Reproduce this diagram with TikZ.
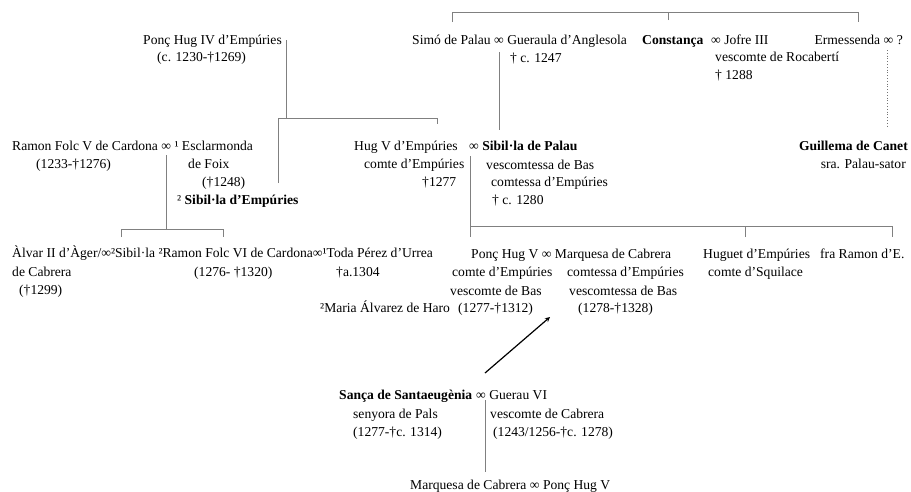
\documentclass[tikz,border=0pt]{standalone}
\usepackage{fontspec}
\setmainfont{Liberation Serif}
\begin{document}
\begin{tikzpicture}[x=1pt,y=-1pt,
	pers/.style={anchor=west,inner sep=0pt,text height=9pt,text depth=3pt},
	tree/.style={draw=black!50,line width=0.8pt},
	kin/.style={draw=black!55,line width=0.8pt,dotted},
	pointer/.style={draw=black,line width=1.2pt,-stealth}]
	\useasboundingbox (0,0) rectangle (911,491);
	\begin{scope}[every node/.style={pers},font=\fontsize{13.6}{16}\selectfont]
	% first generation
	\node (ponc4) at (143,41) {Ponç Hug IV d’Empúries};
	\node (ponc4d) at (157,58) {(c. 1230-†1269)};
	\node (simo) at (412,41) {Simó de Palau ∞ Gueraula d’Anglesola};
	\node (simod) at (510,59) {† c. 1247};
	\node (const) at (642,41) {\textbf{Constança}};
	\node (jofre) at (711,41) {∞ Jofre III};
	\node (jofre2) at (715,58) {vescomte de Rocabertí};
	\node (jofre3) at (715,76) {† 1288};
	\node[anchor=east] (erm) at (903,41) {Ermessenda ∞ ?};
	% second generation
	\node (ramon5) at (12,147) {Ramon Folc V de Cardona ∞ ¹ Esclarmonda};
	\node (ramon5d) at (36,165) {(1233-†1276)};
	\node (foix) at (188,165) {de Foix};
	\node (foixd) at (202,183) {(†1248)};
	\node (sibemp) at (177,201) {² \textbf{Sibil·la d’Empúries}};
	\node (hug5) at (354,147) {Hug V d’Empúries};
	\node (sibpal) at (469,147) {∞ \textbf{Sibil·la de Palau}};
	\node (hug5b) at (364,165) {comte d’Empúries};
	\node (hug5c) at (422,183) {†1277};
	\node (sibpal2) at (486,166) {vescomtessa de Bas};
	\node (sibpal3) at (491,183) {comtessa d’Empúries};
	\node (sibpal4) at (492,201) {† c. 1280};
	\node[anchor=east] (guill) at (908,147) {\textbf{Guillema de Canet}};
	\node[anchor=east] (guill2) at (906,165) {sra. Palau-sator};
	% third generation
	\node (alvar) at (12,254) {Àlvar II d’Àger/∞²Sibil·la ²Ramon Folc VI de Cardona∞¹Toda Pérez d’Urrea};
	\node (alvar2) at (12,273) {de Cabrera};
	\node (alvar3) at (19,291) {(†1299)};
	\node (ramon6d) at (194,273) {(1276- †1320)};
	\node (toda) at (336,273) {†a.1304};
	\node (haro) at (320,309) {²Maria Álvarez de Haro};
	\node (ponc5) at (471,255) {Ponç Hug V ∞ Marquesa de Cabrera};
	\node (ponc5b) at (452,273) {comte d’Empúries};
	\node (marq2) at (567,273) {comtessa d’Empúries};
	\node (ponc5c) at (450,292) {vescomte de Bas};
	\node (marq3) at (569,292) {vescomtessa de Bas};
	\node (ponc5d) at (458,309) {(1277-†1312)};
	\node (marq4) at (578,309) {(1278-†1328)};
	\node (huguet) at (703,255) {Huguet d’Empúries};
	\node (huguet2) at (708,273) {comte d’Squilace};
	\node (fra) at (820,255) {fra Ramon d’E.};
	% Cabrera
	\node (sanca) at (339,396) {\textbf{Sança de Santaeugènia}};
	\node (guerau) at (476,396) {∞ Guerau VI};
	\node (sanca2) at (353,415) {senyora de Pals};
	\node (guerau2) at (490,415) {vescomte de Cabrera};
	\node (sanca3) at (353,433) {(1277-†c. 1314)};
	\node (guerau3) at (493,433) {(1243/1256-†c. 1278)};
	\node (marqb) at (410,486) {Marquesa de Cabrera ∞ Ponç Hug V};
	\end{scope}
	% junctions
	\coordinate (topbar) at (452,12);
	\coordinate (topL) at (452,22);
	\coordinate (topM) at (668,20);
	\coordinate (topR) at (858,22);
	\coordinate (p4S) at (286,40);
	\coordinate (p4bar) at (286,118);
	\coordinate (sibempT) at (278,183);
	\coordinate (hug5T) at (437,124);
	\coordinate (simoS) at (499,52);
	\coordinate (sibpalT) at (499,130);
	\coordinate (ermS) at (887,50);
	\coordinate (guillT) at (887,128);
	\coordinate (r5S) at (166,155);
	\coordinate (r5bar) at (166,229);
	\coordinate (alvarT) at (121,237);
	\coordinate (ramon6T) at (223,237);
	\coordinate (h5S) at (470,156);
	\coordinate (h5bar) at (470,226);
	\coordinate (ponc5T) at (470,237);
	\coordinate (huguetT) at (745,237);
	\coordinate (fraT) at (892,237);
	\coordinate (arrS) at (485,373);
	\coordinate (arrE) at (550,317);
	\coordinate (sgS) at (485,400);
	\coordinate (marqbT) at (485,472);
	% lines
	\draw[tree] (topL) -- (topbar) -| (topR);
	\draw[tree] (topM) -- (topM |- topbar);
	\draw[tree] (p4S) -- (p4bar);
	\draw[tree] (sibempT) |- (hug5T |- p4bar) -- (hug5T);
	\draw[tree] (simoS) -- (sibpalT);
	\draw[kin] (ermS) -- (guillT);
	\draw[tree] (r5S) -- (r5bar);
	\draw[tree] (alvarT) |- (ramon6T |- r5bar) -- (ramon6T);
	\draw[tree] (h5S) -- (ponc5T);
	\draw[tree] (h5bar) -| (fraT);
	\draw[tree] (huguetT) -- (huguetT |- h5bar);
	\draw[pointer] (arrS) -- (arrE);
	\draw[tree] (sgS) -- (marqbT);
\end{tikzpicture}
\end{document}
